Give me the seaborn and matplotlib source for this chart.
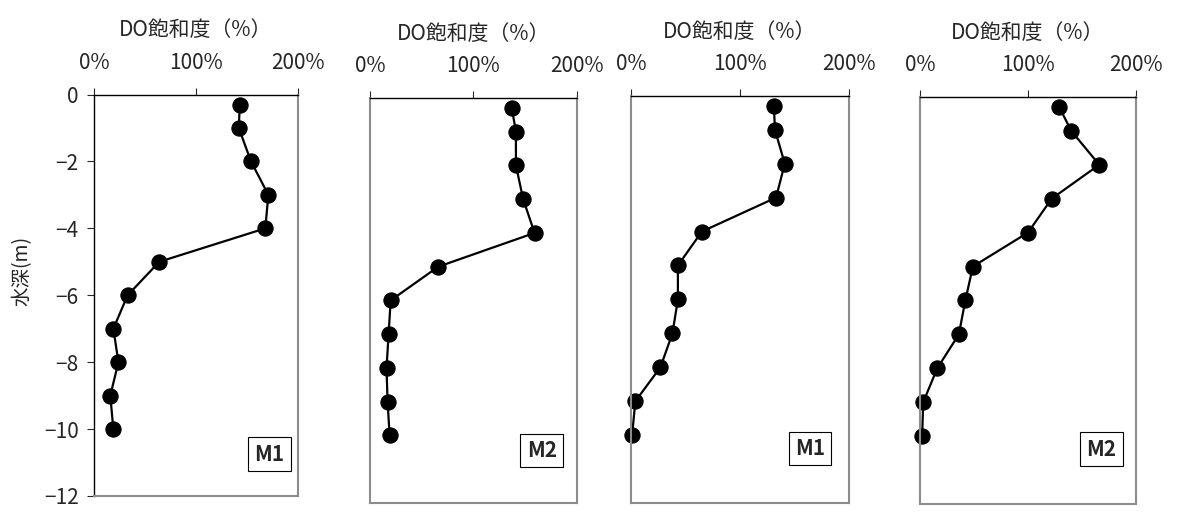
import matplotlib
matplotlib.use("Agg")
import matplotlib.pyplot as plt
import seaborn as sns
import pandas as pd

# depth of each measurement (m)
depth = [-0.3, -1, -2, -3, -4, -5, -6, -7, -8, -9, -10]

# DO saturation (%) for the four profiles
do_m1_a = [143, 142, 154, 171, 168, 64, 33, 19, 24, 16, 19]
do_m2_a = [137, 141, 141, 148, 159, 66, 20, 18, 16, 17, 19]
do_m1_b = [131, 132, 141, 133, 65, 43, 43, 38, 27, 4, 1]
do_m2_b = [129, 140, 166, 122, 100, 49, 42, 36, 16, 3, 2]

station_labels = ['M1', 'M2', 'M1', 'M2']
x_ticks = [0, 100, 200]
x_tick_labels = ['0%', '100%', '200%']
y_ticks = [0, -2, -4, -6, -8, -10, -12]

sns.set_style('white')
plt.rcParams['font.family'] = ['Noto Sans CJK JP', 'DejaVu Sans']

fig = plt.figure(figsize=(11.79, 5.18), dpi=100)

rects = [
    [0.0797, 0.0425, 0.173, 0.775],
    [0.3138, 0.029, 0.1756, 0.782],
    [0.5352, 0.029, 0.185, 0.786],
    [0.7803, 0.027, 0.1832, 0.786],
]
# where the station box sits (axes fraction)
box_pos = [(0.86, 0.104), (0.83, 0.13), (0.82, 0.134), (0.84, 0.135)]

profiles = [do_m1_a, do_m2_a, do_m1_b, do_m2_b]
gray = '#8c8c8c'

for i, (vals, rect) in enumerate(zip(profiles, rects)):
    ax = fig.add_axes(rect)
    df = pd.DataFrame({'DO': vals, 'depth': depth})
    sns.lineplot(data=df, x='DO', y='depth', sort=False, estimator=None,
                 color='black', linewidth=1.6, marker='o', markersize=11,
                 markeredgecolor='black', markerfacecolor='black',
                 clip_on=False, ax=ax)

    ax.set_xlim(0, 200)
    ax.set_ylim(-12, 0)
    ax.xaxis.tick_top()
    ax.xaxis.set_label_position('top')
    ax.set_xticks(x_ticks)
    ax.set_xticklabels(x_tick_labels)
    ax.set_xlabel('DO飽和度（%）', fontsize=15, labelpad=11)
    ax.tick_params(axis='x', direction='out', length=5, width=0.8,
                   pad=10, labelsize=15, top=True, bottom=False)

    for side in ['left', 'right', 'bottom']:
        ax.spines[side].set_color(gray)
        ax.spines[side].set_linewidth(1.5)
    ax.spines['top'].set_color('black')
    ax.spines['top'].set_linewidth(1.0)

    if i == 0:
        ax.spines['left'].set_color('black')
        ax.spines['left'].set_linewidth(1.0)
        ax.set_yticks(y_ticks)
        ax.tick_params(axis='y', direction='out', length=5, width=0.8,
                       pad=6, labelsize=15, left=True)
        ax.set_ylabel('水深(m)', fontsize=14)
        ax.yaxis.set_label_coords(-0.30, 0.56)
    else:
        ax.set_yticks([])
        ax.set_ylabel('')

    bx, by = box_pos[i]
    ax.text(bx, by, station_labels[i], transform=ax.transAxes,
            ha='center', va='center', fontsize=15, fontweight='bold',
            bbox=dict(boxstyle='square,pad=0.3', facecolor='white',
                      edgecolor='black', linewidth=0.8))

plt.savefig('out.png', dpi=100)
